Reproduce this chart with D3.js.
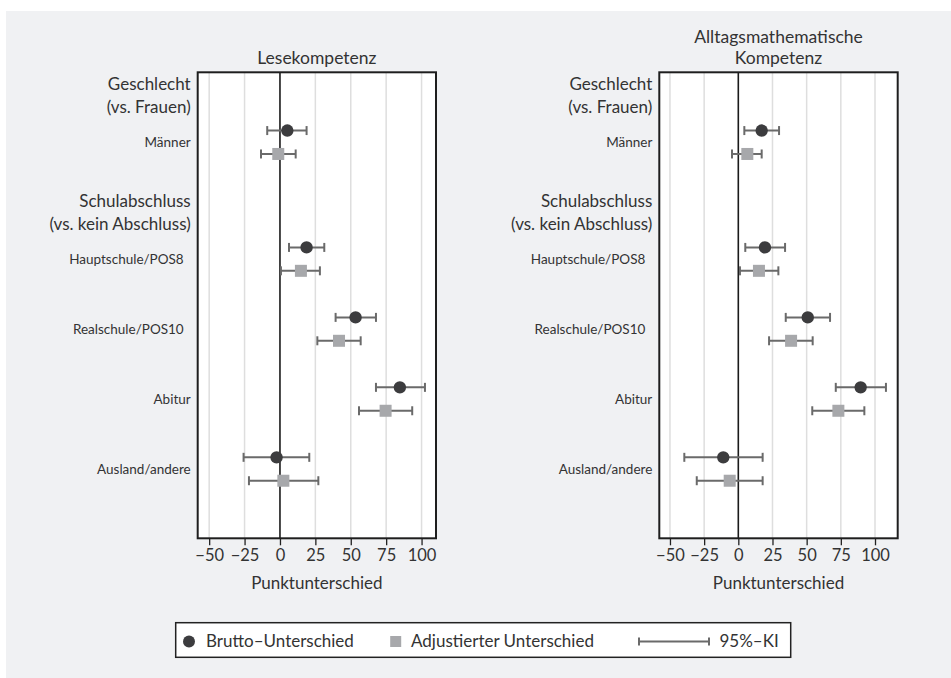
<!DOCTYPE html>
<html>
<head>
<meta charset="utf-8">
<script src="https://cdn.jsdelivr.net/npm/d3@7"></script>
<style>
  body { margin: 0; background: #fff; }
  svg { font-family: Lato, "Open Sans", sans-serif; }
</style>
</head>
<body>
<svg width="951" height="678"></svg>
<script>
// --- data (estimate, lower CI, upper CI) ---
var categories = ['Männer', 'Hauptschule/POS8', 'Realschule/POS10', 'Abitur', 'Ausland/andere'];
var groupTitles = [['Geschlecht', '(vs. Frauen)'], ['Schulabschluss', '(vs. kein Abschluss)']];
var groupSizes = [1, 4];
var panelTitles = [['Lesekompetenz'], ['Alltagsmathematische', 'Kompetenz']];
var xTicks = [-50, -25, 0, 25, 50, 75, 100];

var leseBrutto = [[5.2, -9.0, 18.8], [18.8, 6.4, 31.3], [53.4, 39.3, 67.8], [84.7, 67.8, 102.4], [-2.4, -25.7, 20.7]];
var leseAdj = [[-1.2, -13.4, 11.1], [14.8, 0.7, 28.2], [41.7, 26.4, 57.0], [74.6, 55.8, 93.4], [2.4, -21.9, 27.1]];
var matheBrutto = [[17.1, 4.4, 29.8], [19.5, 5.1, 34.2], [50.8, 34.7, 67.1], [89.5, 71.3, 108.0], [-11.0, -39.5, 17.8]];
var matheAdj = [[6.6, -4.6, 17.1], [15.1, 1.2, 29.3], [38.6, 22.5, 54.4], [73.2, 54.1, 92.2], [-6.3, -30.4, 17.8]];

var legendLabels = ['Brutto–Unterschied', 'Adjustierter Unterschied', '95%–KI'];

var colDark = '#3c3c3e', colGrey = '#a7a8ab', colBar = '#6a6a6a';

var svg = d3.select('svg');

svg.append('rect')
    .attr('x', 6).attr('y', 11)
    .attr('width', 945).attr('height', 667)
    .attr('fill', '#f0f1f3');

// vertical layout in row units: group header baseline, then its items
var headerPos = [], itemPos = [];
var pos = 0.26;
groupSizes.forEach(function(n, g){
    headerPos.push(pos);
    pos += 0.74;
    for (var i = 0; i < n; i++) {
        itemPos.push(pos);
        pos += 1;
    }
    pos -= 0.07;
});
var yMax = itemPos[itemPos.length - 1] + 0.99;

var plotTop = 72.3, plotBottom = 538.3;
var yScale = d3.scaleLinear().domain([0, yMax]).range([plotTop, plotBottom]);
var offset = 11.7;

var panels = [
    { left: 197.7, right: 436, domain: [-58.1, 110.2], brutto: leseBrutto, adj: leseAdj, title: panelTitles[0] },
    { left: 659.3, right: 897.7, domain: [-57.8, 116.6], brutto: matheBrutto, adj: matheAdj, title: panelTitles[1] }
];

panels.forEach(function(p){
    var x = d3.scaleLinear().domain(p.domain).range([p.left, p.right]);
    var g = svg.append('g');

    g.append('rect')
        .attr('x', p.left).attr('y', plotTop)
        .attr('width', p.right - p.left).attr('height', plotBottom - plotTop)
        .attr('fill', '#fff');

    g.selectAll('line.grid')
        .data(xTicks.filter(function(d){ return d !== 0; }))
        .enter().append('line')
        .attr('class', 'grid')
        .attr('x1', function(d){ return x(d); })
        .attr('x2', function(d){ return x(d); })
        .attr('y1', plotTop).attr('y2', plotBottom)
        .attr('stroke', '#dedede').attr('stroke-width', 1.5);

    g.append('line')
        .attr('x1', x(0)).attr('x2', x(0))
        .attr('y1', plotTop).attr('y2', plotBottom)
        .attr('stroke', '#1a1a1a').attr('stroke-width', 1.6);

    var xAxis = d3.axisBottom(x).tickValues(xTicks).tickSize(7).tickPadding(4);
    var ax = g.append('g')
        .attr('transform', 'translate(0,' + plotBottom + ')')
        .call(xAxis);
    ax.select('.domain').remove();
    ax.selectAll('.tick line').attr('stroke', '#222').attr('stroke-width', 1.3);
    ax.selectAll('.tick text')
        .attr('font-size', 16.5).attr('fill', '#333')
        .style('font-family', 'Lato, sans-serif');

    g.append('rect')
        .attr('x', p.left).attr('y', plotTop)
        .attr('width', p.right - p.left).attr('height', plotBottom - plotTop)
        .attr('fill', 'none').attr('stroke', '#1e1e1e').attr('stroke-width', 2);

    var mid = (p.left + p.right) / 2;
    g.selectAll('text.ptitle')
        .data(p.title)
        .enter().append('text')
        .attr('class', 'ptitle')
        .attr('x', mid)
        .attr('y', function(d, i){ return 64 - (p.title.length - 1 - i) * 21; })
        .attr('text-anchor', 'middle')
        .attr('font-size', 17.5).attr('fill', '#333')
        .text(function(d){ return d; });

    g.append('text')
        .attr('x', mid).attr('y', 589)
        .attr('text-anchor', 'middle')
        .attr('font-size', 17).attr('fill', '#333')
        .text('Punktunterschied');

    // group headers
    groupTitles.forEach(function(lines, k){
        g.selectAll(null)
            .data(lines)
            .enter().append('text')
            .attr('x', p.left - 7)
            .attr('y', function(d, i){ return yScale(headerPos[k]) + i * 23; })
            .attr('text-anchor', 'end')
            .attr('font-size', 17).attr('fill', '#333')
            .text(function(d){ return d; });
    });

    // category labels
    g.selectAll('text.cat')
        .data(categories)
        .enter().append('text')
        .attr('class', 'cat')
        .attr('x', function(d){ return p.left - (d.indexOf('POS') >= 0 ? 14 : 7); })
        .attr('y', function(d, i){ return yScale(itemPos[i]); })
        .attr('dy', '0.35em')
        .attr('text-anchor', 'end')
        .attr('font-size', 13.5).attr('fill', '#333')
        .text(function(d){ return d; });

    function errorBars(data, dy){
        var eb = g.append('g');
        eb.selectAll('line.bar')
            .data(data).enter().append('line')
            .attr('x1', function(d){ return x(d[1]); })
            .attr('x2', function(d){ return x(d[2]); })
            .attr('y1', function(d, i){ return yScale(itemPos[i]) + dy; })
            .attr('y2', function(d, i){ return yScale(itemPos[i]) + dy; })
            .attr('stroke', colBar).attr('stroke-width', 2);
        [1, 2].forEach(function(k){
            eb.selectAll(null)
                .data(data).enter().append('line')
                .attr('x1', function(d){ return x(d[k]); })
                .attr('x2', function(d){ return x(d[k]); })
                .attr('y1', function(d, i){ return yScale(itemPos[i]) + dy - 4.5; })
                .attr('y2', function(d, i){ return yScale(itemPos[i]) + dy + 4.5; })
                .attr('stroke', colBar).attr('stroke-width', 2);
        });
    }

    errorBars(p.brutto, -offset);
    errorBars(p.adj, offset);

    g.selectAll('circle.brutto')
        .data(p.brutto).enter().append('circle')
        .attr('class', 'brutto')
        .attr('cx', function(d){ return x(d[0]); })
        .attr('cy', function(d, i){ return yScale(itemPos[i]) - offset; })
        .attr('r', 6.2)
        .attr('fill', colDark);

    g.selectAll('rect.adj')
        .data(p.adj).enter().append('rect')
        .attr('class', 'adj')
        .attr('x', function(d){ return x(d[0]) - 6; })
        .attr('y', function(d, i){ return yScale(itemPos[i]) + offset - 6; })
        .attr('width', 12).attr('height', 12)
        .attr('fill', colGrey);
});

// legend
var lg = svg.append('g');
lg.append('rect')
    .attr('x', 175.7).attr('y', 622.7)
    .attr('width', 615).attr('height', 34.6)
    .attr('fill', '#fff').attr('stroke', '#222').attr('stroke-width', 1.5);
var ly = 641.5;
lg.append('circle').attr('cx', 189).attr('cy', ly).attr('r', 6).attr('fill', colDark);
lg.append('rect').attr('x', 390.2).attr('y', ly - 5.5).attr('width', 11).attr('height', 11).attr('fill', colGrey);
lg.append('line').attr('x1', 639).attr('x2', 709).attr('y1', ly).attr('y2', ly)
    .attr('stroke', colBar).attr('stroke-width', 2);
[639, 709].forEach(function(cx){
    lg.append('line').attr('x1', cx).attr('x2', cx).attr('y1', ly - 4).attr('y2', ly + 4)
        .attr('stroke', colBar).attr('stroke-width', 2);
});
lg.selectAll('text')
    .data(legendLabels).enter().append('text')
    .attr('x', function(d, i){ return [206, 411, 719.5][i]; })
    .attr('y', ly).attr('dy', '0.35em')
    .attr('font-size', 17).attr('fill', '#333')
    .text(function(d){ return d; });
</script>
</body>
</html>
